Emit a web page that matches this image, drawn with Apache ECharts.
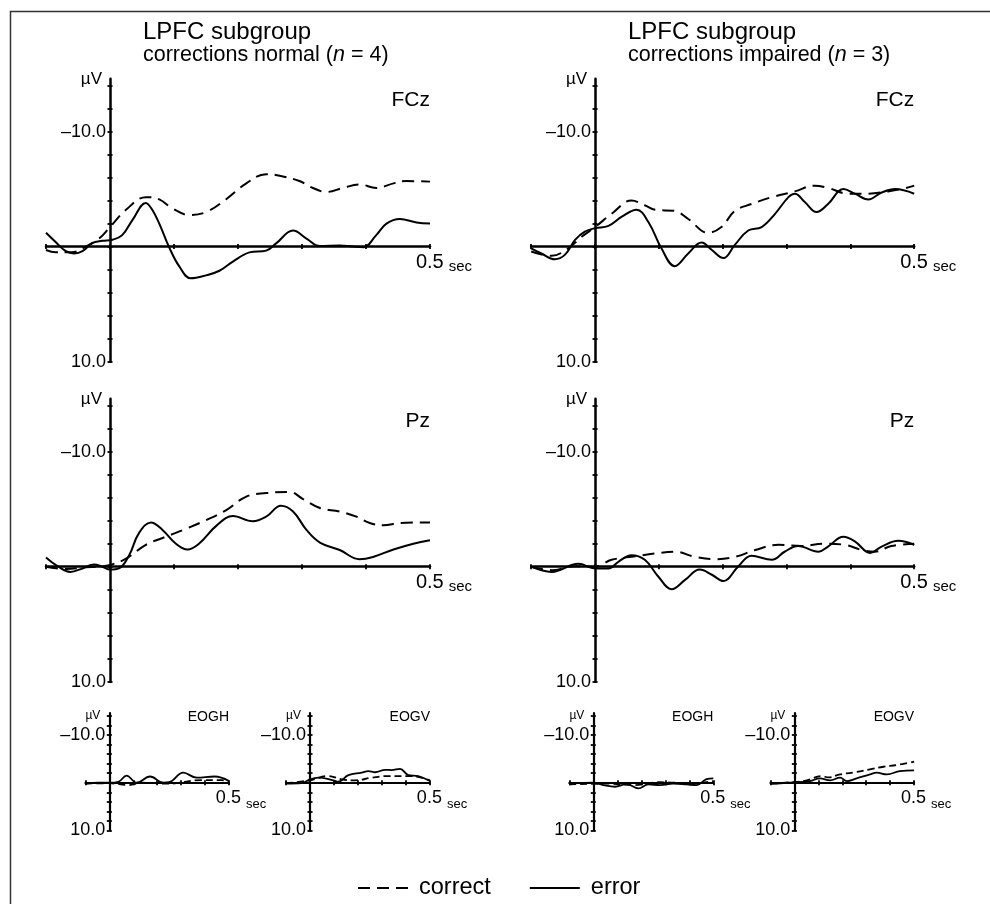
<!DOCTYPE html>
<html><head><meta charset="utf-8">
<script src="https://cdn.jsdelivr.net/npm/echarts@6/dist/echarts.min.js"></script>
<style>html,body{margin:0;padding:0;background:#fff}#c{width:990px;height:904px}</style>
</head><body><div id="c"></div>
<script>
// ---- axis ticks / labels ----
const yTickValues = [-14,-12,-10,-8,-6,-4,-2,0,2,4,6,8,10];
const yLabelValues = [-10, 10];
const xLabelValues = [0.5];
const seriesNames = ['correct', 'error'];
const panelNames = ['FCz', 'FCz', 'Pz', 'Pz', 'EOGH', 'EOGV', 'EOGH', 'EOGV'];

// ---- data: [time (s), amplitude (µV)] ----
const fczNormalCorrect = [[-0.1,0.3],[-0.085,0.5],[-0.06,0.5],[-0.038,0],[-0.017,-0.7],[0,-1.7],[0.025,-3.2],[0.056,-4.3],[0.077,-4.1],[0.098,-3.3],[0.124,-2.75],[0.15,-3.0],[0.181,-4.1],[0.213,-5.5],[0.244,-6.3],[0.27,-6.1],[0.296,-5.7],[0.317,-5.1],[0.338,-4.75],[0.364,-5.1],[0.39,-5.4],[0.416,-5.1],[0.443,-5.5],[0.463,-5.7],[0.5,-5.65]];
const fczNormalError = [[-0.1,-1.2],[-0.085,-0.4],[-0.069,0.4],[-0.056,0.6],[-0.043,0.4],[-0.028,-0.3],[-0.012,-0.5],[0.004,-0.6],[0.019,-1.0],[0.035,-2.3],[0.056,-3.8],[0.066,-3.2],[0.077,-2.0],[0.092,0],[0.108,1.7],[0.126,2.75],[0.15,2.5],[0.171,2.1],[0.192,1.3],[0.218,0.5],[0.244,0.35],[0.26,-0.3],[0.286,-1.4],[0.307,-0.7],[0.328,-0.05],[0.359,-0.1],[0.38,0],[0.396,0.05],[0.416,-1.0],[0.432,-2.0],[0.453,-2.4],[0.479,-2.1],[0.5,-2.0]];
const fczImpairedCorrect = [[-0.1,0.43],[-0.068,0.8],[-0.042,0.15],[-0.021,-0.85],[0,-1.7],[0.026,-2.85],[0.057,-4.0],[0.078,-3.6],[0.094,-3.2],[0.125,-3.1],[0.146,-2.4],[0.177,-1.2],[0.198,-1.7],[0.219,-3.1],[0.245,-3.7],[0.277,-4.3],[0.313,-4.8],[0.344,-5.3],[0.365,-5.1],[0.397,-4.6],[0.428,-4.6],[0.459,-4.8],[0.48,-5.0],[0.5,-5.3]];
const fczImpairedError = [[-0.1,0.15],[-0.084,0.6],[-0.063,1.1],[-0.047,0.7],[-0.031,-0.6],[-0.016,-1.3],[0,-1.6],[0.021,-1.8],[0.042,-2.6],[0.065,-3.2],[0.084,-2.1],[0.104,0.15],[0.125,1.7],[0.146,0.6],[0.167,-0.35],[0.183,0.3],[0.201,1.0],[0.219,-0.15],[0.24,-1.4],[0.261,-1.7],[0.282,-2.85],[0.303,-4.3],[0.313,-4.6],[0.329,-3.85],[0.347,-3.0],[0.365,-3.7],[0.389,-5.0],[0.407,-4.6],[0.428,-4.1],[0.449,-4.7],[0.47,-5.0],[0.5,-4.6]];
const pzNormalCorrect = [[-0.1,0],[-0.069,0.2],[-0.038,0.05],[-0.017,0],[0,-0.15],[0.025,-0.7],[0.056,-1.9],[0.087,-2.6],[0.119,-3.3],[0.15,-4.05],[0.181,-4.9],[0.213,-6.1],[0.244,-6.4],[0.281,-6.5],[0.301,-5.9],[0.328,-5.1],[0.359,-4.8],[0.385,-4.35],[0.406,-3.8],[0.427,-3.6],[0.453,-3.8],[0.5,-3.85]];
const pzNormalError = [[-0.1,-0.8],[-0.082,-0.05],[-0.062,0.45],[-0.043,0.15],[-0.025,-0.2],[-0.012,0],[0,0.25],[0.014,0.15],[0.03,-1.0],[0.045,-2.9],[0.064,-3.85],[0.082,-3.2],[0.103,-2.0],[0.121,-1.5],[0.139,-2.0],[0.166,-3.55],[0.192,-4.4],[0.223,-3.95],[0.244,-4.35],[0.267,-5.3],[0.286,-4.8],[0.307,-3.2],[0.328,-2.1],[0.359,-1.45],[0.39,-0.65],[0.411,-0.85],[0.443,-1.5],[0.474,-2.0],[0.5,-2.3]];
const pzImpairedCorrect = [[-0.1,0],[-0.068,0.3],[-0.031,-0.05],[0,0],[0.026,-0.6],[0.063,-0.9],[0.094,-1.15],[0.125,-1.3],[0.157,-0.85],[0.188,-0.65],[0.219,-0.85],[0.251,-1.45],[0.287,-1.9],[0.324,-1.8],[0.36,-2.0],[0.391,-1.9],[0.418,-1.45],[0.438,-1.3],[0.464,-1.8],[0.5,-2.0]];
const pzImpairedError = [[-0.1,0],[-0.068,0.45],[-0.026,-0.25],[0,0.15],[0.021,0.15],[0.037,-0.45],[0.057,-1.0],[0.078,-0.6],[0.099,0.85],[0.12,1.95],[0.141,1.15],[0.164,0.25],[0.183,0.7],[0.201,1.25],[0.224,0],[0.245,-0.95],[0.277,-0.6],[0.297,-1.3],[0.318,-1.8],[0.35,-1.3],[0.365,-1.75],[0.389,-2.6],[0.407,-2.2],[0.431,-1.2],[0.449,-1.75],[0.475,-2.25],[0.5,-1.9]];
const eoghNormalCorrect = [[-0.1,0.2],[0,0.1],[0.08,0.5],[0.135,0],[0.245,0.2],[0.385,-0.55],[0.47,-0.55],[0.5,-0.2]];
const eoghNormalError = [[-0.1,0.2],[-0.046,0],[0,0],[0.038,-0.2],[0.072,-1.5],[0.114,0],[0.17,-1.3],[0.226,0],[0.25,-0.1],[0.309,-2.1],[0.365,-1.05],[0.44,-1.3],[0.5,-0.35]];
const eogvNormalCorrect = [[-0.1,0.1],[0,-0.5],[0.076,-1.4],[0.132,-0.7],[0.188,-0.5],[0.257,-1.05],[0.326,-1.4],[0.41,-1.4],[0.465,-1.05],[0.5,-0.5]];
const eogvNormalError = [[-0.1,0.2],[-0.035,0.1],[0,-0.7],[0.035,-1.05],[0.097,-0.5],[0.118,-0.2],[0.16,-1.6],[0.215,-2.1],[0.243,-2.45],[0.271,-2.2],[0.313,-2.7],[0.34,-2.65],[0.375,-2.9],[0.41,-1.6],[0.451,-1.4],[0.5,-0.35]];
const eoghImpairedCorrect = [[-0.1,0.35],[0.069,0.2],[0.167,0.5],[0.278,-0.1],[0.417,0.15],[0.5,-0.35]];
const eoghImpairedError = [[-0.1,0.15],[0,0],[0.042,0.5],[0.09,0.85],[0.139,0.3],[0.188,1.2],[0.229,0.35],[0.278,0.5],[0.333,0.2],[0.389,0.35],[0.431,0.5],[0.472,-0.75],[0.5,-0.9]];
const eogvImpairedCorrect = [[-0.1,0.2],[0,-0.15],[0.052,-0.5],[0.114,-1.4],[0.142,-1.1],[0.191,-1.75],[0.26,-2.25],[0.316,-2.8],[0.372,-3.35],[0.427,-3.7],[0.5,-4.4]];
const eogvImpairedError = [[-0.1,0.2],[0,-0.05],[0.065,-0.35],[0.107,-0.9],[0.149,-0.5],[0.191,-1.05],[0.219,-0.35],[0.26,-0.9],[0.316,-1.75],[0.344,-2.1],[0.386,-1.75],[0.441,-2.45],[0.5,-2.6]];

const panelData = [
  [fczNormalCorrect, fczNormalError],
  [fczImpairedCorrect, fczImpairedError],
  [pzNormalCorrect, pzNormalError],
  [pzImpairedCorrect, pzImpairedError],
  [eoghNormalCorrect, eoghNormalError],
  [eogvNormalCorrect, eogvNormalError],
  [eoghImpairedCorrect, eoghImpairedError],
  [eogvImpairedCorrect, eogvImpairedError]
];

// ---- layout (pixels) ----
const FONT = '"Liberation Sans", Arial, sans-serif';
const Y_MIN = -14.6, Y_MAX = 10, X_MIN = -0.1, X_MAX = 0.5;
const layout = [
  {left:46,   top:78.7,  width:384,   height:282.9, big:true},
  {left:531.2,top:78.7,  width:383,   height:282.9, big:true},
  {left:46,   top:398.8, width:384,   height:282.9, big:true},
  {left:531.2,top:398.8, width:383,   height:282.9, big:true},
  {left:85.4, top:713.1, width:143.6, height:117.3, big:false},
  {left:286,  top:713.1, width:144,   height:117.3, big:false},
  {left:569.3,top:713.1, width:144,   height:117.3, big:false},
  {left:770.4,top:713.1, width:143.7, height:117.3, big:false}
];

const grids = [], xAxes = [], yAxes = [], series = [], graphics = [];
const tickStyle = {color:'#000', width:1.8};
layout.forEach((L, i) => {
  grids.push({left:L.left, top:L.top, width:L.width, height:L.height, outerBoundsMode:'none'});
  const aW = L.big ? 2.5 : 2.2;
  const fs0 = L.big ? 20 : 18, fs1 = L.big ? 15 : 13, secW = L.big ? 28 : 24;
  // shift axes so they cross at t = 0 and 0 µV
  const xShift = L.width * (0 - X_MIN) / (X_MAX - X_MIN);
  const yShift = L.height * (Y_MAX - 0) / (Y_MAX - Y_MIN);
  xAxes.push({
    gridIndex:i, type:'value', min:X_MIN, max:X_MAX, interval:0.1,
    position:'bottom', offset:-yShift,
    axisLine:{onZero:false, lineStyle:{color:'#000', width:aW}},
    axisTick:{length:2.5, lineStyle:tickStyle},
    splitLine:{show:false},
    axisLabel:{
      customValues:xLabelValues, margin:6, color:'#000', fontFamily:FONT,
      formatter: v => Math.abs(v - 0.5) < 1e-9 ? '{p|}{a|0.5}{b|sec}' : '',
      rich:{
        p:{width:secW},
        a:{fontSize:fs0, fontFamily:FONT, color:'#000', lineHeight:22, verticalAlign:'top'},
        b:{fontSize:fs1, fontFamily:FONT, color:'#000', lineHeight:22, verticalAlign:'bottom', padding:[0,0,0,5]}
      }
    }
  });
  // mirror x axis: only ticks on the other side of the same line
  xAxes.push({
    gridIndex:i, type:'value', min:X_MIN, max:X_MAX, interval:0.1,
    position:'top', offset:-(L.height - yShift),
    axisLine:{show:false, onZero:false}, axisLabel:{show:false}, splitLine:{show:false},
    axisTick:{length:2.5, lineStyle:tickStyle}
  });
  yAxes.push({
    gridIndex:i, type:'value', inverse:true, min:Y_MIN, max:Y_MAX,
    position:'left', offset:-xShift,
    axisLine:{onZero:false, lineStyle:{color:'#000', width:aW}},
    axisTick:{customValues:yTickValues, length:2.5, lineStyle:tickStyle},
    splitLine:{show:false},
    axisLabel:{
      customValues:yLabelValues, margin:4, color:'#000', fontFamily:FONT, fontSize:18,
      formatter: v => v === -10 ? '\u201310.0' : (v === 10 ? '10.0' : '')
    }
  });
  yAxes.push({
    gridIndex:i, type:'value', inverse:true, min:Y_MIN, max:Y_MAX,
    position:'right', offset:-(L.width - xShift),
    axisLine:{show:false, onZero:false}, axisLabel:{show:false}, splitLine:{show:false},
    axisTick:{customValues:yTickValues, length:2.5, lineStyle:tickStyle}
  });
  const [cData, eData] = panelData[i];
  const lw = L.big ? 2 : 1.8;
  series.push({
    name:seriesNames[0], type:'line', xAxisIndex:2 * i, yAxisIndex:2 * i, data:cData,
    symbol:'none', smooth:0.4, silent:true, itemStyle:{color:'#000'},
    lineStyle:{color:'#000', width:lw, type: L.big ? [12,7] : [7,4]}
  });
  series.push({
    name:seriesNames[1], type:'line', xAxisIndex:2 * i, yAxisIndex:2 * i, data:eData,
    symbol:'none', smooth:0.4, silent:true, itemStyle:{color:'#000'},
    lineStyle:{color:'#000', width:lw, type:'solid'}
  });
  const x0 = L.left + xShift;
  graphics.push({type:'text', x:L.left + L.width, y:L.top + (L.big ? 22 : 4),
    style:{text:panelNames[i], fontSize: L.big ? 21 : 14, fontFamily:FONT, fill:'#000', align:'right', verticalAlign:'middle'}});
  graphics.push({type:'text', x:x0 - (L.big ? 8 : 9), y:L.top + (L.big ? 1 : 3),
    style:{text:'\u00b5V', fontSize: L.big ? 17 : 12, fontFamily:FONT, fill:'#000', align:'right', verticalAlign:'middle'}});
});

// group titles
graphics.push({type:'text', x:143, y:32, style:{text:'LPFC subgroup', fontSize:24, fontFamily:FONT, fill:'#000', verticalAlign:'middle'}});
graphics.push({type:'text', x:143, y:55, style:{text:'corrections normal ({i|n} = 4)', fontSize:21.5, fontFamily:FONT, fill:'#000', verticalAlign:'middle',
  rich:{i:{fontStyle:'italic', fontSize:21.5, fontFamily:FONT, fill:'#000'}}}});
graphics.push({type:'text', x:628, y:32, style:{text:'LPFC subgroup', fontSize:24, fontFamily:FONT, fill:'#000', verticalAlign:'middle'}});
graphics.push({type:'text', x:628, y:55, style:{text:'corrections impaired ({i|n} = 3)', fontSize:21.5, fontFamily:FONT, fill:'#000', verticalAlign:'middle',
  rich:{i:{fontStyle:'italic', fontSize:21.5, fontFamily:FONT, fill:'#000'}}}});
// frame
graphics.push({type:'rect', shape:{x:10.5, y:11.5, width:1000, height:1000}, style:{fill:'none', stroke:'#333', lineWidth:1.5}, silent:true});

const option = {
  backgroundColor:'#fff',
  animation:false,
  grid:grids, xAxis:xAxes, yAxis:yAxes, series:series,
  legend:{
    data:seriesNames, left:352, top:871, itemWidth:50, itemHeight:14, itemGap:38,
    selectedMode:false, itemStyle:{opacity:0},
    textStyle:{fontSize:23.5, fontFamily:FONT, color:'#000', padding:[0,0,0,6]}
  },
  graphic:graphics
};
const chart = echarts.init(document.getElementById('c'), null, {renderer:'canvas'});
chart.setOption(option);
</script></body></html>
